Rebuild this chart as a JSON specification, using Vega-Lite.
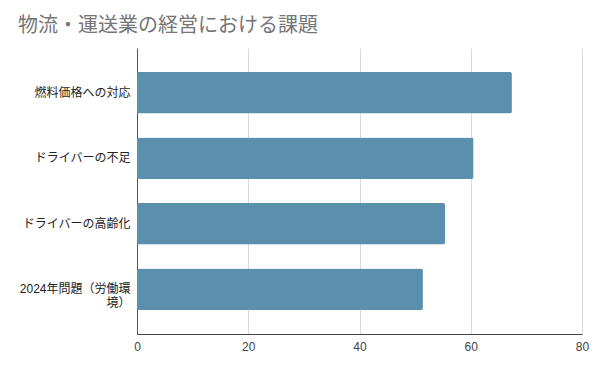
{
  "$schema": "https://vega.github.io/schema/vega-lite/v6.json",
  "width": 445,
  "height": 286,
  "autosize": "none",
  "padding": {"left": 137, "top": 48, "right": 17, "bottom": 35},
  "background": "white",
  "title": {
    "text": "物流・運送業の経営における課題",
    "anchor": "start",
    "frame": "group",
    "dx": -119,
    "offset": -4,
    "baseline": "alphabetic",
    "font": "Liberation Sans, Noto Sans CJK JP",
    "fontSize": 20,
    "fontWeight": "normal",
    "color": "#757575"
  },
  "data": {
    "values": [
      {"label": "燃料価格への対応", "value": 67.4},
      {"label": "ドライバーの不足", "value": 60.5},
      {"label": "ドライバーの高齢化", "value": 55.4},
      {"label": "2024年問題（労働環境）", "value": 51.4}
    ]
  },
  "mark": {"type": "bar", "color": "#5a8fad", "cornerRadius": 2},
  "encoding": {
    "y": {
      "field": "label",
      "type": "nominal",
      "sort": null,
      "scale": {"paddingInner": 0.366, "paddingOuter": 0.366},
      "axis": {
        "title": null,
        "ticks": false,
        "domainColor": "#555555",
        "labelPadding": 7,
        "labelFont": "Liberation Sans, Noto Sans CJK JP",
        "labelFontSize": 12,
        "labelColor": "#222222",
        "labelLineHeight": 14,
        "labelExpr": "datum.label == '2024年問題（労働環境）' ? ['2024年問題（労働環', '境）'] : datum.label"
      }
    },
    "x": {
      "field": "value",
      "type": "quantitative",
      "scale": {"domain": [0, 80]},
      "axis": {
        "title": null,
        "values": [0, 20, 40, 60, 80],
        "ticks": false,
        "labelFlush": false,
        "domainColor": "#444444",
        "gridColor": "#d9d9d9",
        "labelPadding": 7,
        "labelFont": "Liberation Sans, Noto Sans CJK JP",
        "labelFontSize": 12,
        "labelColor": "#444444"
      }
    }
  },
  "config": {"view": {"stroke": null}}
}
